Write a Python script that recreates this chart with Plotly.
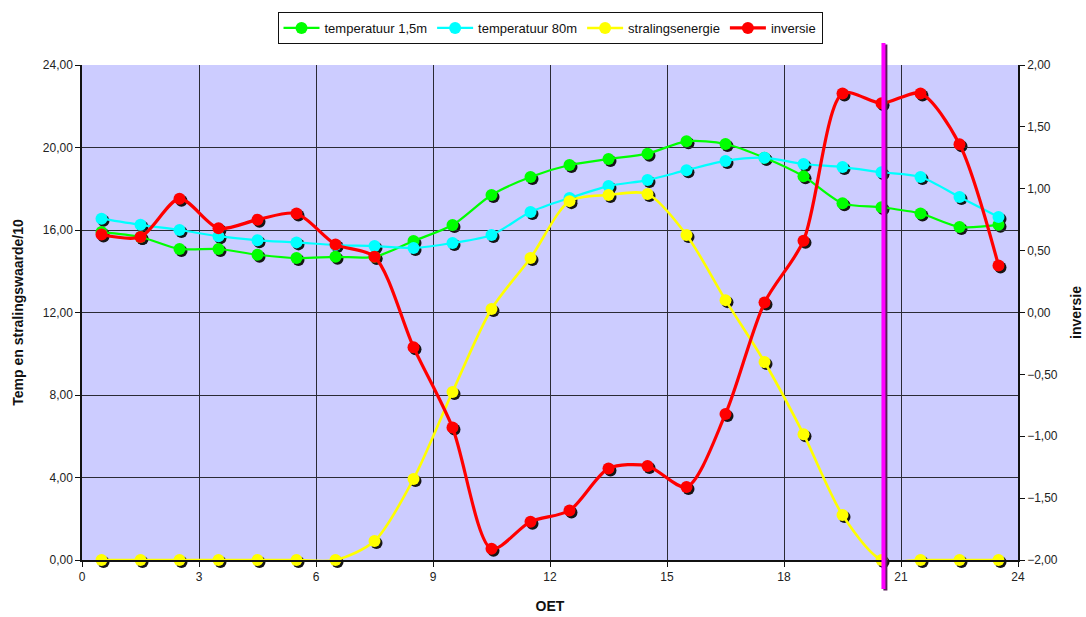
import plotly.graph_objects as go

# Hourly readings (hour of day, OET)
hours = [0.5, 1.5, 2.5, 3.5, 4.5, 5.5, 6.5, 7.5, 8.5, 9.5, 10.5, 11.5,
         12.5, 13.5, 14.5, 15.5, 16.5, 17.5, 18.5, 19.5, 20.5, 21.5, 22.5, 23.5]

temp_15m = [15.90, 15.66, 15.08, 15.08, 14.80, 14.64, 14.70, 14.70, 15.47, 16.24, 17.70, 18.57,
            19.15, 19.44, 19.70, 20.30, 20.17, 19.50, 18.60, 17.30, 17.10, 16.80, 16.15, 16.25]

temp_80m = [16.55, 16.25, 16.00, 15.70, 15.50, 15.40, 15.27, 15.22, 15.13, 15.37, 15.76, 16.87,
            17.55, 18.13, 18.42, 18.90, 19.35, 19.50, 19.20, 19.05, 18.80, 18.57, 17.60, 16.63]

straling = [0.00, 0.00, 0.00, 0.00, 0.00, 0.00, 0.00, 0.92, 3.93, 8.15, 12.17, 14.64,
            17.40, 17.70, 17.75, 15.76, 12.60, 9.60, 6.10, 2.18, 0.00, 0.00, 0.00, 0.00]

inversie = [0.63, 0.61, 0.92, 0.68, 0.75, 0.80, 0.55, 0.45, -0.28, -0.93, -1.91, -1.69,
            -1.60, -1.26, -1.24, -1.41, -0.82, 0.08, 0.58, 1.77, 1.69, 1.77, 1.36, 0.38]

x_ticks = [0, 3, 6, 9, 12, 15, 18, 21, 24]
current_hour = 20.55

FONT = "Liberation Sans, Arial, sans-serif"
BG = "#CCCCFF"

# The drop-shadow subplot is the same size as the main one, sitting SH pixels lower and to the right.
ML, MT = 82, 65
PLOT_W, PLOT_H = 936, 495
SH = 2
MR = 1086 - ML - PLOT_W - SH
MB = 617 - MT - PLOT_H - SH
AREA_W, AREA_H = PLOT_W + SH, PLOT_H + SH
main_xdom = [0, PLOT_W / AREA_W]
main_ydom = [SH / AREA_H, 1]
shadow_xdom = [SH / AREA_W, 1]
shadow_ydom = [0, PLOT_H / AREA_H]

series = [
    ("temperatuur 1,5m", temp_15m, "#00FF00", 2.2, "left"),
    ("temperatuur 80m", temp_80m, "#00FFFF", 2.2, "left"),
    ("stralingsenergie", straling, "#FFFF00", 2.6, "left"),
    ("inversie", inversie, "#FF0000", 3.2, "right"),
]

fig = go.Figure()

# dark drop shadows (drawn first, underneath)
for name, vals, col, w, side in series:
    fig.add_trace(go.Scatter(
        x=hours, y=vals, mode="markers", showlegend=False, hoverinfo="skip",
        marker=dict(size=12, color="#151515"), cliponaxis=False,
        xaxis="x", yaxis="y" if side == "left" else "y4"))

# the series themselves
for name, vals, col, w, side in series:
    fig.add_trace(go.Scatter(
        x=hours, y=vals, name=name, mode="lines+markers",
        line=dict(color=col, width=w, shape="spline", smoothing=0.8),
        marker=dict(size=12, color=col), cliponaxis=False,
        xaxis="x2", yaxis="y2" if side == "left" else "y3"))

# plot-area background, below both subplots
fig.add_shape(type="rect", xref="paper", yref="paper",
              x0=main_xdom[0], x1=main_xdom[1], y0=main_ydom[0], y1=main_ydom[1],
              fillcolor=BG, line=dict(width=0), layer="below")

# current-time marker
y_lo = -(585 - (MT + PLOT_H)) / AREA_H - SH / AREA_H
y_hi = 1 + (MT - 43) / AREA_H
fig.add_shape(type="line", xref="x2", yref="paper", x0=current_hour + 0.05, x1=current_hour + 0.05,
              y0=y_lo - 0.003, y1=y_hi - 0.003, line=dict(color="#5A205A", width=4), layer="above")
fig.add_shape(type="line", xref="x2", yref="paper", x0=current_hour, x1=current_hour,
              y0=y_lo, y1=y_hi, line=dict(color="#FF00FF", width=4), layer="above")

axis_font = dict(family=FONT, size=12, color="#222222")
title_font = dict(family=FONT, size=14, color="#111111", weight="bold")
hidden = dict(visible=False, showgrid=False, zeroline=False, automargin=False)

fig.update_layout(
    width=1086, height=617,
    margin=dict(l=ML, r=MR, t=MT, b=MB, autoexpand=False),
    paper_bgcolor="white", plot_bgcolor="rgba(0,0,0,0)",
    separators=",.",
    font=dict(family=FONT, size=12, color="#111111"),
    showlegend=True,
    legend=dict(orientation="h", x=(PLOT_W / 2) / AREA_W, xanchor="center",
                y=1 + (MT - 12) / AREA_H, yanchor="top",
                bordercolor="#111111", borderwidth=1, bgcolor="white",
                font=dict(family=FONT, size=13, color="#111111"),
                itemwidth=36, tracegroupgap=0),
    # shadow axes (hidden)
    xaxis=dict(range=[0, 24], domain=shadow_xdom, anchor="y", **hidden),
    yaxis=dict(range=[0, 24], domain=shadow_ydom, anchor="x", **hidden),
    yaxis4=dict(range=[-2, 2], overlaying="y", **hidden),
    # visible axes
    xaxis2=dict(range=[0, 24], domain=main_xdom, anchor="y2", automargin=False,
                tickvals=x_ticks, ticktext=[str(t) for t in x_ticks],
                showgrid=True, gridcolor="#2a2a35", gridwidth=1, zeroline=False,
                showline=True, linecolor="#111111", linewidth=1.5,
                ticks="outside", ticklen=5, tickcolor="#111111", tickfont=axis_font,
                title=dict(text="OET", font=title_font, standoff=18)),
    yaxis2=dict(range=[0, 24], domain=main_ydom, anchor="x2", automargin=False,
                dtick=4, tick0=0, tickformat=".2f",
                showgrid=True, gridcolor="#2a2a35", gridwidth=1, zeroline=False,
                showline=True, linecolor="#111111", linewidth=1.5,
                ticks="outside", ticklen=5, tickcolor="#111111", tickfont=axis_font,
                title=dict(text="Temp en stralingswaarde/10", font=title_font, standoff=16)),
    yaxis3=dict(range=[-2, 2], overlaying="y2", anchor="x2", side="right", automargin=False,
                dtick=0.5, tick0=0, tickformat=".2f",
                showgrid=False, zeroline=False, showline=True, linecolor="#111111", linewidth=1.5,
                ticks="outside", ticklen=5, tickcolor="#111111", tickfont=axis_font,
                title=dict(text="inversie", font=title_font, standoff=14)),
)

fig.write_html("out.html")
